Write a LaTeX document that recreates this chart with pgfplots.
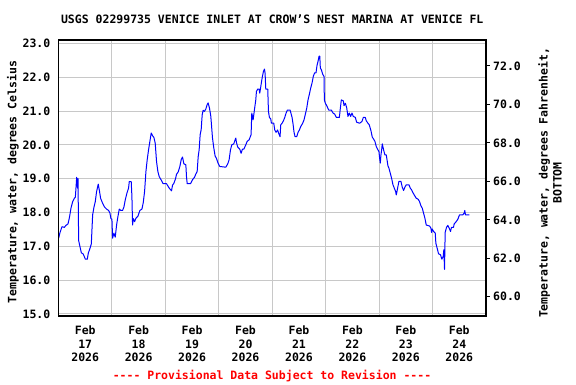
\documentclass[border=0pt]{standalone}
\usepackage{pgfplots}
\pgfplotsset{compat=1.18}
\usepackage{fontspec}
\setmonofont{DejaVu Sans Mono}
\newcommand\f{\ttfamily\bfseries\fontsize{11.5}{13.3}\selectfont}
\newcommand\fr{\ttfamily\bfseries\fontsize{11.5}{14}\selectfont}
\definecolor{gridc}{RGB}{200,200,200}
\pgfplotstableread{
day temp
0.003 17.24
0.025 17.39
0.065 17.58
0.109 17.56
0.140 17.62
0.177 17.66
0.202 17.83
0.234 18.13
0.265 18.32
0.296 18.42
0.315 18.45
0.327 18.72
0.340 19.04
0.358 18.72
0.365 19.00
0.377 17.17
0.402 16.99
0.427 16.81
0.464 16.77
0.502 16.62
0.539 16.62
0.558 16.80
0.589 16.94
0.614 17.07
0.639 17.93
0.664 18.16
0.688 18.32
0.713 18.62
0.744 18.84
0.763 18.67
0.788 18.42
0.826 18.27
0.863 18.16
0.900 18.10
0.938 18.06
0.963 17.98
0.981 17.82
1.000 17.80
1.012 17.24
1.037 17.39
1.062 17.27
1.087 17.63
1.112 17.88
1.137 18.10
1.168 18.06
1.199 18.06
1.224 18.16
1.249 18.37
1.280 18.57
1.311 18.72
1.324 18.91
1.361 18.91
1.374 18.47
1.386 17.63
1.399 17.82
1.424 17.73
1.449 17.83
1.486 17.89
1.523 18.06
1.561 18.10
1.586 18.29
1.611 18.62
1.636 19.21
1.660 19.56
1.685 19.85
1.710 20.10
1.735 20.35
1.760 20.27
1.785 20.22
1.810 20.05
1.835 19.50
1.860 19.21
1.885 19.06
1.922 18.96
1.959 18.85
2.022 18.85
2.072 18.72
2.115 18.64
2.134 18.81
2.159 18.86
2.190 19.00
2.209 19.13
2.240 19.20
2.271 19.36
2.296 19.56
2.321 19.64
2.346 19.44
2.383 19.41
2.396 19.04
2.409 18.85
2.471 18.85
2.508 18.97
2.545 19.04
2.570 19.14
2.595 19.21
2.614 19.65
2.632 19.85
2.651 20.30
2.670 20.45
2.689 20.89
2.707 21.02
2.732 20.99
2.757 21.06
2.782 21.19
2.800 21.24
2.825 21.09
2.850 20.85
2.882 20.20
2.907 19.90
2.931 19.67
2.956 19.60
2.988 19.45
3.019 19.36
3.131 19.34
3.168 19.44
3.193 19.56
3.218 19.85
3.243 20.00
3.280 20.03
3.305 20.15
3.318 20.20
3.330 20.07
3.355 19.93
3.393 19.87
3.417 19.75
3.442 19.87
3.467 19.87
3.505 20.00
3.530 20.10
3.567 20.15
3.604 20.30
3.617 20.94
3.642 20.74
3.667 21.04
3.692 21.33
3.704 21.58
3.729 21.65
3.754 21.65
3.766 21.53
3.779 21.65
3.791 21.78
3.810 21.97
3.835 22.17
3.854 22.24
3.866 22.12
3.879 21.65
3.916 21.65
3.929 20.99
3.947 20.81
3.972 20.77
3.984 20.64
4.028 20.64
4.047 20.44
4.072 20.37
4.100 20.44
4.121 20.34
4.146 20.24
4.159 20.59
4.184 20.64
4.209 20.71
4.234 20.81
4.259 20.94
4.284 21.03
4.334 21.03
4.371 20.81
4.390 20.61
4.408 20.37
4.427 20.24
4.458 20.24
4.483 20.37
4.508 20.44
4.533 20.54
4.570 20.64
4.595 20.74
4.620 20.91
4.645 21.08
4.670 21.33
4.695 21.50
4.720 21.68
4.745 21.83
4.769 22.03
4.794 22.13
4.819 22.13
4.838 22.35
4.857 22.47
4.876 22.62
4.890 22.62
4.900 22.27
4.919 22.22
4.944 22.09
4.969 22.02
4.975 21.33
4.994 21.23
5.019 21.16
5.056 21.03
5.106 21.03
5.137 20.94
5.168 20.91
5.200 20.81
5.256 20.81
5.274 21.08
5.293 21.33
5.330 21.30
5.343 21.16
5.368 21.23
5.393 21.10
5.417 20.84
5.442 20.94
5.467 20.84
5.492 20.94
5.517 20.84
5.555 20.81
5.579 20.67
5.636 20.64
5.679 20.69
5.704 20.81
5.741 20.81
5.760 20.71
5.791 20.64
5.816 20.59
5.847 20.42
5.872 20.23
5.897 20.17
5.922 20.10
5.947 19.95
5.972 19.87
5.997 19.80
6.009 19.61
6.022 19.46
6.034 19.70
6.047 19.85
6.059 20.03
6.084 19.85
6.109 19.70
6.134 19.70
6.146 19.58
6.165 19.38
6.184 19.31
6.209 19.16
6.234 19.01
6.259 18.82
6.284 18.72
6.309 18.62
6.321 18.52
6.346 18.72
6.371 18.92
6.408 18.92
6.433 18.75
6.458 18.65
6.483 18.75
6.508 18.82
6.558 18.82
6.583 18.72
6.608 18.67
6.632 18.59
6.657 18.52
6.695 18.42
6.732 18.39
6.757 18.32
6.782 18.20
6.807 18.13
6.832 17.98
6.857 17.83
6.882 17.63
6.944 17.60
6.969 17.54
6.981 17.41
6.994 17.51
7.019 17.44
7.050 17.39
7.062 17.09
7.087 16.94
7.112 16.78
7.149 16.75
7.174 16.62
7.199 16.70
7.211 16.90
7.224 16.32
7.236 17.41
7.261 17.56
7.286 17.62
7.311 17.54
7.336 17.44
7.354 17.56
7.392 17.56
7.404 17.66
7.442 17.73
7.473 17.80
7.504 17.93
7.566 17.93
7.591 17.98
7.603 18.06
7.616 17.93
7.691 17.93
}\datatable
\begin{document}
\begin{tikzpicture}[x=1pt,y=1pt]
\useasboundingbox (0,0) rectangle (576,384);
\begin{axis}[
  at={(58.5pt,68pt)}, anchor=south west,
  scale only axis, width=427.5pt, height=276pt,
  xmin=0, xmax=8, ymin=14.94, ymax=23.10,
  xtick={0.5,1.5,2.5,3.5,4.5,5.5,6.5,7.5},
  xticklabels={{Feb\\17\\2026},{Feb\\18\\2026},{Feb\\19\\2026},{Feb\\20\\2026},{Feb\\21\\2026},{Feb\\22\\2026},{Feb\\23\\2026},{Feb\\24\\2026}},
  minor xtick={1,2,3,4,5,6,7},
  xminorgrids=true, xmajorgrids=false, ymajorgrids=true,
  ytick={15,16,17,18,19,20,21,22,23},
  yticklabels={15.0,16.0,17.0,18.0,19.0,20.0,21.0,22.0,23.0},
  ytick pos=left, xtick pos=bottom,
  major tick length=0pt, minor tick length=0pt,
  major grid style={draw=gridc, line width=1pt},
  minor grid style={draw=gridc, line width=1pt},
  axis line style={black, line width=1.5pt},
  tick label style={font=\f, inner sep=0pt},
  xticklabel style={anchor=north, align=center, yshift=-10pt},
  yticklabel style={anchor=east, xshift=-8pt},
  title={USGS 02299735 VENICE INLET AT CROW’S NEST MARINA AT VENICE FL},
  title style={font=\f, at={(axis description cs:0.5,1)}, anchor=base, yshift=10pt, inner sep=0pt},
  ylabel={Temperature, water, degrees Celsius},
  every axis y label/.style={at={(axis description cs:-0.1064,0.4855)}, rotate=90, anchor=center, font=\f, inner sep=0pt},
]
\addplot[draw={rgb,255:red,0;green,0;blue,255}, line width=1pt, line join=round, mark=none] table[x=day, y=temp] {\datatable};
\end{axis}
\begin{axis}[
  at={(58.5pt,68pt)}, anchor=south west,
  scale only axis, width=427.5pt, height=276pt,
  xmin=0, xmax=8, ymin=59.0, ymax=73.35,
  hide x axis,
  ytick={60,62,64,66,68,70,72},
  yticklabels={60.0,62.0,64.0,66.0,68.0,70.0,72.0},
  ytick pos=right, yticklabel pos=right,
  tick align=outside, major tick length=4pt,
  tick style={black, line width=1pt},
  axis line style={black, line width=1.5pt},
  tick label style={font=\f, inner sep=0pt},
  yticklabel style={anchor=west, xshift=3pt},
  ylabel={Temperature, water, degrees Fahrenheit,\\BOTTOM},
  every axis y label/.style={at={(axis description cs:1.1497,0.482)}, rotate=90, anchor=center, align=center, font=\fr, inner sep=0pt},
]
\end{axis}
\node[anchor=base, text=red, font=\f, inner sep=0pt] at (272,5) {---- Provisional Data Subject to Revision ----};
\end{tikzpicture}
\end{document}
